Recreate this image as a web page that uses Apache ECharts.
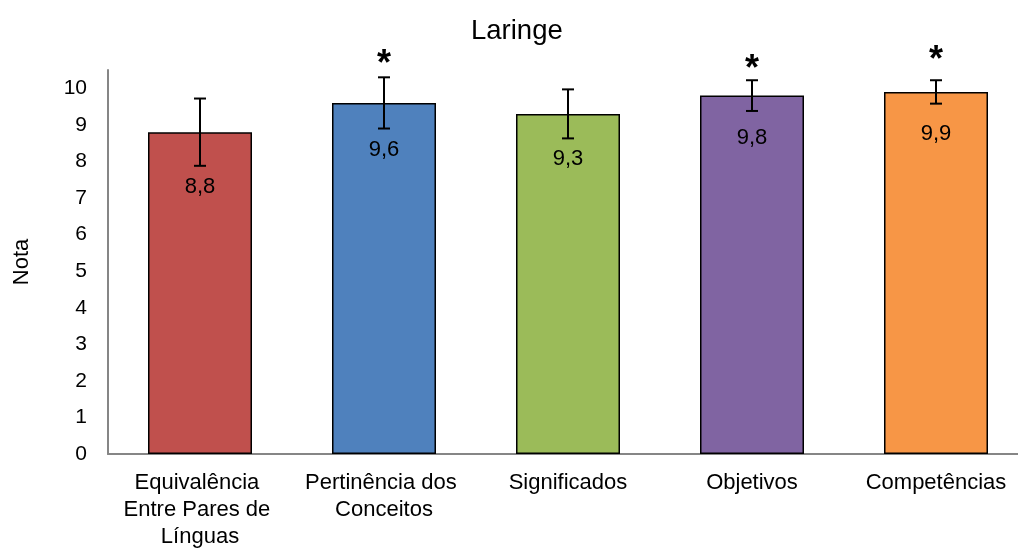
<!DOCTYPE html>
<html>
<head>
<meta charset="utf-8">
<script src="https://cdn.jsdelivr.net/npm/echarts@6/dist/echarts.min.js"></script>
<style>html,body{margin:0;padding:0;background:#fff}#c{width:1018px;height:548px}</style>
</head>
<body>
<div id="c"></div>
<script>
var categories = ['Equivalência Entre Pares de Línguas', 'Pertinência dos Conceitos', 'Significados', 'Objetivos', 'Competências'];
var means = [8.8, 9.6, 9.3, 9.8, 9.9];
var errors = [0.92, 0.70, 0.67, 0.42, 0.32];
var labels = ['8,8', '9,6', '9,3', '9,8', '9,9'];
var significance = ['', '*', '', '*', '*'];
var starHeights = [null, 10.87, null, 10.74, 10.98];
var colors = ['#C0504D', '#4F81BD', '#9BBB59', '#8064A2', '#F79646'];
var yTicks = [0, 1, 2, 3, 4, 5, 6, 7, 8, 9, 10];

var FONT = '"Liberation Sans", Arial, sans-serif';

var errData = means.map(function (m, i) {
  return [i, m - errors[i], m + errors[i], m, starHeights[i] == null ? 0 : starHeights[i]];
});

var chart = echarts.init(document.getElementById('c'), null, {renderer: 'canvas'});
chart.setOption({
  animation: false,
  title: {
    text: 'Laringe', left: 466, top: 12,
    textStyle: {fontFamily: FONT, fontSize: 27.5, fontWeight: 'normal', color: '#000'}
  },
  grid: {left: 108, width: 920, top: 70, height: 384, containLabel: false, outerBoundsMode: 'none'},
  xAxis: {
    type: 'category', data: categories,
    axisLine: {lineStyle: {color: '#868686', width: 2}},
    axisTick: {show: false},
    axisLabel: {
      interval: 0, margin: 15, color: '#000', fontFamily: FONT, fontSize: 22,
      lineHeight: 27, width: 176, overflow: 'break'
    }
  },
  yAxis: {
    type: 'value', min: 0, max: 10.5, interval: 1,
    name: 'Nota', nameLocation: 'middle', nameGap: 75,
    nameTextStyle: {fontFamily: FONT, fontSize: 22, color: '#000'},
    axisLine: {show: true, lineStyle: {color: '#868686', width: 2}},
    axisTick: {show: false},
    splitLine: {show: false},
    axisLabel: {
      margin: 21, color: '#000', fontFamily: FONT, fontSize: 21,
      formatter: function (v) { return yTicks.indexOf(v) >= 0 ? String(v) : ''; }
    }
  },
  series: [
    {
      type: 'bar', barWidth: 104,
      data: means.map(function (m, i) {
        return {value: m, itemStyle: {color: colors[i]}};
      }),
      itemStyle: {borderColor: '#000', borderWidth: 1.5},
      z: 2
    },
    {
      type: 'custom',
      data: errData,
      encode: {x: 0, y: [1, 2]},
      clip: false,
      z: 5,
      renderItem: function (params, api) {
        var i = api.value(0);
        var lo = api.coord([i, api.value(1)]);
        var hi = api.coord([i, api.value(2)]);
        var top = api.coord([i, api.value(3)]);
        var cap = 6;
        var labelY = Math.max(lo[1] + 21, top[1] + 42);
        var children = [
          {type: 'line', shape: {x1: hi[0], y1: hi[1], x2: lo[0], y2: lo[1]}, style: {stroke: '#000', lineWidth: 2}},
          {type: 'line', shape: {x1: hi[0] - cap, y1: hi[1], x2: hi[0] + cap, y2: hi[1]}, style: {stroke: '#000', lineWidth: 2}},
          {type: 'line', shape: {x1: lo[0] - cap, y1: lo[1], x2: lo[0] + cap, y2: lo[1]}, style: {stroke: '#000', lineWidth: 2}},
          {type: 'text', style: {text: labels[i], x: top[0], y: labelY, align: 'center', verticalAlign: 'middle',
            fill: '#000', font: '22px ' + FONT}}
        ];
        if (significance[i]) {
          var s = api.coord([i, api.value(4)]);
          children.push({type: 'text', style: {text: significance[i], x: s[0], y: s[1] + 9, align: 'center', verticalAlign: 'middle',
            fill: '#000', font: 'bold 36px ' + FONT}});
        }
        return {type: 'group', children: children};
      }
    }
  ]
});
</script>
</body>
</html>
